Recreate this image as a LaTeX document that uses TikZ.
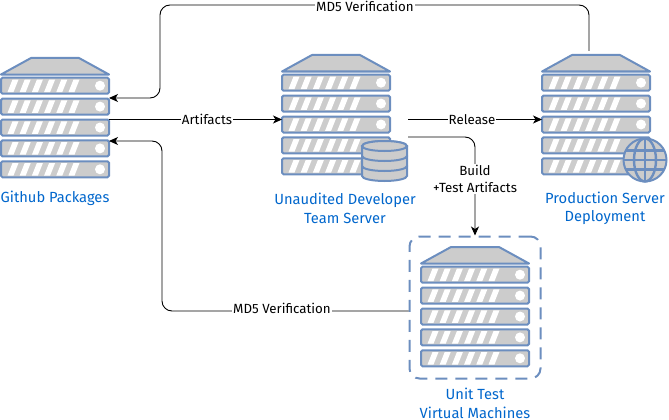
\documentclass[tikz,border=0pt]{standalone}
\usepackage{fontspec}
\setmainfont{Fira Sans}
\usetikzlibrary{arrows.meta}
\definecolor{srvblue}{HTML}{6C8EBF}
\definecolor{srvgray}{HTML}{CCCCCC}
\definecolor{txtblue}{HTML}{0066CC}
\tikzset{
  pics/serverstack/.style={code={
    \draw[srvpart, line join=round] (-54,16.5) -- (-24,0) -- (24,0) -- (54,16.5) -- cycle;
    \foreach \i [evaluate=\i as \y using {19+(\i-1)*20.9}] in {1,...,5} {
      \node[blade] (-b\i) at (0,\y+8.7) {};
      \foreach \j in {0,...,5}
        \fill[white] (-47.5+\j*12.2,\y+15) -- ++(6,0) -- ++(5,-12.5) -- ++(-6,0) -- cycle;
      \fill[white] (45,\y+8.7) circle (5);
    }
  }},
  pics/dbstack/.style={code={
    \foreach \y in {20,10,0}
      \draw[srvpart] (-22.5,\y) -- (-22.5,\y+10) arc (180:0:22.5 and 5) -- (22.5,\y) arc (0:-180:22.5 and 5) -- cycle;
    \draw[srvpart] (0,0) ellipse (22.5 and 5);
  }},
  pics/globeicon/.style={code={
    \draw[srvpart] (0,0) circle (21.5);
    \draw[srvblue, line width=2.4pt] (0,-21.5) -- (0,21.5) (-19,-9.5) -- (19,-9.5) (-21.5,0) -- (21.5,0) (-19,9.5) -- (19,9.5);
    \draw[srvblue, line width=2.4pt] (0,0) ellipse (11 and 21.5);
  }}
}
\begin{document}
\begin{tikzpicture}[
  x=1pt, y=-1pt,
  srvpart/.style={draw=srvblue, fill=srvgray, line width=2pt},
  blade/.style={srvpart, rounded corners=1.5pt, minimum width=108pt, minimum height=16pt, inner sep=0pt, outer sep=0pt},
  srvlabel/.style={text=txtblue, font=\fontsize{14.7}{18.3}\selectfont, align=center},
  linklabel/.style={fill=white, inner sep=1pt, font=\fontsize{13.3}{16.5}\selectfont, align=center},
  link/.style={draw=black, line width=0.9pt, rounded corners=10pt, -{Stealth[length=9pt,width=8pt,inset=2.5pt]}}
  ]
\useasboundingbox (0,0) rectangle (669,420);

% servers
\pic (gh) at (55,58) {serverstack};
\pic (dev) at (336,55) {serverstack};
\pic (prod) at (596,55) {serverstack};
\pic (vm) at (475,247) {serverstack};
\pic at (384.5,146) {dbstack};
\pic at (645,160) {globeicon};

% dashed box and server names
\node[draw=srvblue, line width=2pt, dash pattern=on 12pt off 8pt, rounded corners=10pt, minimum width=131pt, minimum height=142pt] (vmbox) at (475,307.5) {};
\node[srvlabel] (ghname) at (55,198) {Github Packages};
\node[srvlabel] (devname) at (345,208.5) {Unaudited Developer\\Team Server};
\node[srvlabel] (prodname) at (605,208.5) {Production Server\\Deployment};
\node[srvlabel] (vmname) at (475,403.5) {Unit Test\\Virtual Machines};

% free ends of the links
\coordinate (devrelease) at (408,119.5);
\coordinate (devbuild) at (408,137);
\coordinate (prodtop) at (589,51);

% links
\draw[link] (prodtop) -- (589,5) -- (160,5) -- (160,98) -- (gh-b2.east |- 0,98);
\draw[link] (gh-b3.east |- 0,119.5) -- (dev-b3.west |- 0,119.5);
\draw[link] (devrelease) -- (prod-b3.west |- devrelease);
\draw[link] (devbuild) -- (475,137) -- (vmbox.north);
\draw[link] (vmbox.west |- 0,311) -- (162,311) -- (162,141) -- (gh-b4.east |- 0,141);

% link names
\node[linklabel] (md5top) at (365,6) {MD5 Verification};
\node[linklabel] (artlabel) at (207,119) {Artifacts};
\node[linklabel] (rellabel) at (472,120) {Release};
\node[linklabel] (buildlabel) at (475,179) {Build\\+Test Artifacts};
\node[linklabel] (md5low) at (282,308) {MD5 Verification};
\end{tikzpicture}
\end{document}
